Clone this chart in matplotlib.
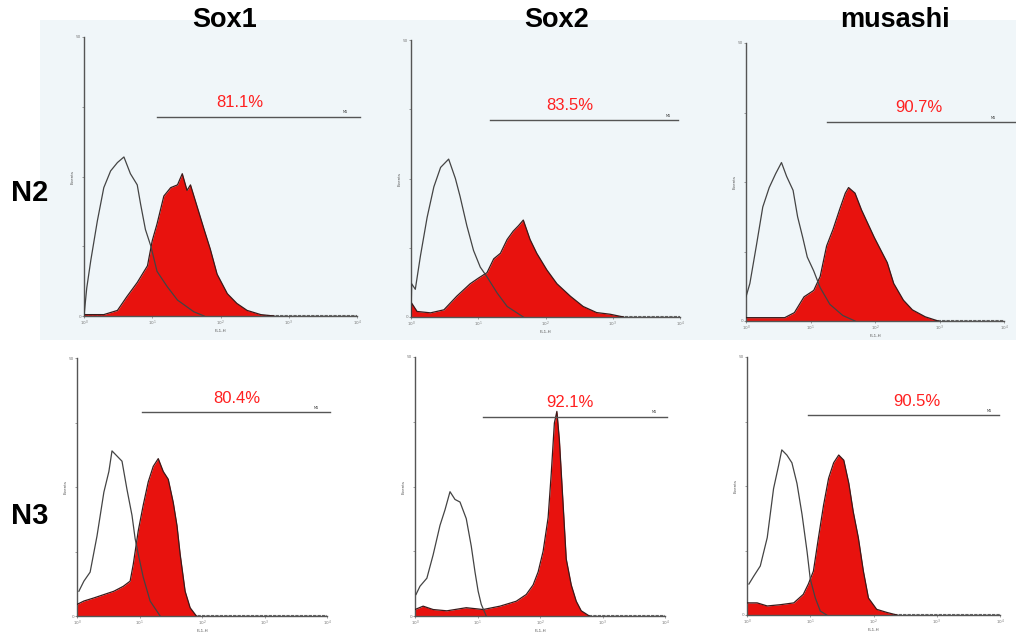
import matplotlib.pyplot as plt
from matplotlib.patches import Rectangle

# marker names and culture conditions
markers = ["Sox1", "Sox2", "musashi"]
conditions = ["N2", "N3"]
percent_labels = [["81.1%", "83.5%", "90.7%"], ["80.4%", "92.1%", "90.5%"]]

# histograms: x is log10(FL1-H), y is fraction of axis height
# --- N2 ---
n2_sox1_ctrl_x = [0.0, 0.04, 0.10, 0.195, 0.29, 0.39, 0.49, 0.585, 0.68, 0.78, 0.83, 0.90, 0.98, 1.07, 1.22, 1.37, 1.61, 1.76]
n2_sox1_ctrl_y = [0.0, 0.10, 0.20, 0.34, 0.46, 0.52, 0.55, 0.57, 0.51, 0.47, 0.40, 0.31, 0.25, 0.16, 0.105, 0.057, 0.015, 0.0]
n2_sox1_pos_x = [0.0, 0.29, 0.49, 0.63, 0.78, 0.93, 1.0, 1.07, 1.17, 1.27, 1.37, 1.44, 1.51, 1.56, 1.66, 1.76, 1.85, 1.95, 2.1, 2.24, 2.39, 2.59, 2.78]
n2_sox1_pos_y = [0.005, 0.005, 0.02, 0.07, 0.12, 0.18, 0.27, 0.33, 0.43, 0.46, 0.47, 0.51, 0.45, 0.47, 0.39, 0.31, 0.24, 0.15, 0.08, 0.045, 0.02, 0.005, 0.0]

n2_sox2_ctrl_x = [0.0, 0.01, 0.064, 0.14, 0.24, 0.34, 0.44, 0.56, 0.66, 0.73, 0.83, 0.93, 1.03, 1.13, 1.28, 1.43, 1.67]
n2_sox2_ctrl_y = [0.0, 0.12, 0.10, 0.22, 0.36, 0.47, 0.54, 0.57, 0.50, 0.435, 0.33, 0.24, 0.18, 0.145, 0.087, 0.038, 0.0]
n2_sox2_pos_x = [0.0, 0.01, 0.09, 0.29, 0.49, 0.68, 0.88, 1.0, 1.13, 1.23, 1.33, 1.43, 1.52, 1.6, 1.67, 1.77, 1.87, 2.02, 2.17, 2.37, 2.56, 2.76, 2.96, 3.16]
n2_sox2_pos_y = [0.0, 0.05, 0.02, 0.015, 0.026, 0.075, 0.12, 0.14, 0.16, 0.21, 0.23, 0.28, 0.31, 0.33, 0.35, 0.28, 0.23, 0.17, 0.12, 0.075, 0.038, 0.016, 0.01, 0.0]

n2_musashi_ctrl_x = [0.0, 0.06, 0.16, 0.26, 0.36, 0.46, 0.55, 0.63, 0.73, 0.80, 0.88, 0.95, 1.05, 1.15, 1.30, 1.50, 1.69]
n2_musashi_ctrl_y = [0.087, 0.135, 0.27, 0.41, 0.48, 0.53, 0.57, 0.52, 0.47, 0.375, 0.30, 0.23, 0.18, 0.12, 0.06, 0.02, 0.0]
n2_musashi_pos_x = [0.0, 0.60, 0.75, 0.90, 1.05, 1.15, 1.25, 1.35, 1.45, 1.54, 1.59, 1.69, 1.79, 1.89, 1.99, 2.09, 2.19, 2.29, 2.44, 2.58, 2.78, 2.98]
n2_musashi_pos_y = [0.012, 0.012, 0.03, 0.087, 0.11, 0.16, 0.27, 0.33, 0.40, 0.46, 0.48, 0.46, 0.40, 0.35, 0.30, 0.255, 0.21, 0.135, 0.075, 0.04, 0.015, 0.0]

# --- N3 ---
n3_sox1_ctrl_x = [0.03, 0.11, 0.21, 0.32, 0.43, 0.51, 0.56, 0.64, 0.72, 0.80, 0.88, 0.93, 0.98, 1.06, 1.17, 1.33]
n3_sox1_ctrl_y = [0.096, 0.135, 0.17, 0.31, 0.48, 0.56, 0.64, 0.62, 0.60, 0.49, 0.39, 0.30, 0.24, 0.15, 0.058, 0.0]
n3_sox1_pos_x = [0.0, 0.11, 0.27, 0.43, 0.59, 0.74, 0.85, 0.90, 0.98, 1.06, 1.14, 1.22, 1.30, 1.38, 1.46, 1.54, 1.60, 1.65, 1.73, 1.81, 1.91]
n3_sox1_pos_y = [0.045, 0.058, 0.07, 0.083, 0.096, 0.115, 0.135, 0.20, 0.33, 0.43, 0.52, 0.58, 0.61, 0.56, 0.53, 0.44, 0.35, 0.24, 0.096, 0.032, 0.0]

n3_sox2_ctrl_x = [0.016, 0.08, 0.19, 0.29, 0.40, 0.48, 0.56, 0.64, 0.72, 0.82, 0.90, 0.96, 1.01, 1.06, 1.14]
n3_sox2_ctrl_y = [0.083, 0.115, 0.146, 0.236, 0.35, 0.41, 0.48, 0.45, 0.44, 0.376, 0.27, 0.17, 0.096, 0.045, 0.0]
n3_sox2_pos_x = [0.0, 0.13, 0.29, 0.51, 0.82, 1.09, 1.36, 1.62, 1.78, 1.89, 1.97, 2.05, 2.13, 2.18, 2.23, 2.27, 2.31, 2.37, 2.42, 2.50, 2.58, 2.66, 2.79]
n3_sox2_pos_y = [0.025, 0.038, 0.025, 0.02, 0.032, 0.025, 0.038, 0.057, 0.083, 0.12, 0.17, 0.25, 0.38, 0.55, 0.745, 0.79, 0.68, 0.43, 0.22, 0.12, 0.057, 0.02, 0.0]

n3_musashi_ctrl_x = [0.03, 0.105, 0.21, 0.32, 0.42, 0.50, 0.55, 0.63, 0.71, 0.79, 0.87, 0.95, 1.0, 1.08, 1.16, 1.26]
n3_musashi_ctrl_y = [0.12, 0.15, 0.19, 0.30, 0.49, 0.58, 0.64, 0.62, 0.59, 0.51, 0.39, 0.245, 0.14, 0.066, 0.015, 0.0]
n3_musashi_pos_x = [0.0, 0.16, 0.32, 0.53, 0.74, 0.89, 0.97, 1.05, 1.13, 1.21, 1.29, 1.37, 1.45, 1.53, 1.61, 1.68, 1.76, 1.84, 1.92, 2.05, 2.21, 2.37]
n3_musashi_pos_y = [0.047, 0.047, 0.035, 0.04, 0.047, 0.08, 0.12, 0.17, 0.30, 0.425, 0.53, 0.59, 0.62, 0.60, 0.51, 0.40, 0.30, 0.17, 0.066, 0.022, 0.01, 0.0]

# marker gates (log10 start, log10 end)
gates = [[(1.07, 4.05), (1.17, 3.97), (1.26, 4.3)],
         [(1.04, 4.05), (1.09, 4.03), (0.96, 3.98)]]

ctrl_curves = [[(n2_sox1_ctrl_x, n2_sox1_ctrl_y), (n2_sox2_ctrl_x, n2_sox2_ctrl_y), (n2_musashi_ctrl_x, n2_musashi_ctrl_y)],
               [(n3_sox1_ctrl_x, n3_sox1_ctrl_y), (n3_sox2_ctrl_x, n3_sox2_ctrl_y), (n3_musashi_ctrl_x, n3_musashi_ctrl_y)]]
pos_curves = [[(n2_sox1_pos_x, n2_sox1_pos_y), (n2_sox2_pos_x, n2_sox2_pos_y), (n2_musashi_pos_x, n2_musashi_pos_y)],
              [(n3_sox1_pos_x, n3_sox1_pos_y), (n3_sox2_pos_x, n3_sox2_pos_y), (n3_musashi_pos_x, n3_musashi_pos_y)]]

# layout: axes boxes in pixels (left, right, top, bottom), gate heights, percent label x
W, H = 1016, 632
boxes = [[(84, 357, 37, 316), (411, 680, 40, 317), (746, 1004, 43, 321)],
         [(77, 327, 358, 616), (415, 665, 357, 616), (747, 1000, 357, 615)]]
gate_y = [[0.715, 0.71, 0.715], [0.79, 0.77, 0.775]]
label_x = [[2.29, 2.36, 2.68], [2.56, 2.48, 2.69]]

fig = plt.figure(figsize=(W / 100, H / 100), dpi=100)
fig.patch.set_facecolor("white")
# faint bluish scan tint behind the N2 row
fig.add_artist(Rectangle((40 / W, 1 - 340 / H), 976 / W, 320 / H, transform=fig.transFigure,
                         facecolor="#f0f6f9", edgecolor="none", zorder=0))

red = "#e8120e"
for r in range(2):
    for c in range(3):
        left, right, top, bottom = boxes[r][c]
        ax = fig.add_axes([left / W, 1 - bottom / H, (right - left) / W, (bottom - top) / H])
        ax.patch.set_alpha(0)
        px, py = pos_curves[r][c]
        cx, cy = ctrl_curves[r][c]
        ax.fill_between(px, py, 0, color=red, lw=0, zorder=2)
        ax.plot(px, py, color="#3a1a1a", lw=0.9, zorder=3)
        ax.plot(cx, cy, color="#444444", lw=0.9, zorder=4)
        # baseline beyond the histograms
        ax.plot([0, 4], [0.004, 0.004], color="#666666", lw=0.8, ls=(0, (3, 1)), zorder=1)

        g0, g1 = gates[r][c]
        gy = gate_y[r][c]
        ax.plot([g0, g1], [gy, gy], color="#555555", lw=1.0, clip_on=False, zorder=5)
        ax.text(min(g1, 3.95) - 0.12, gy + 0.012, "M1", fontsize=2.5, color="#333333", ha="center")
        ax.text(label_x[r][c], gy + 0.025, percent_labels[r][c], color="#ff2020",
                fontsize=12, ha="center", va="bottom", zorder=6, family="Liberation Sans")

        ax.set_xlim(0, 4)
        ax.set_ylim(0, 1)
        for s in ["top", "right"]:
            ax.spines[s].set_visible(False)
        for s in ["left", "bottom"]:
            ax.spines[s].set_color("#555555")
            ax.spines[s].set_linewidth(1.0)
        ax.set_xticks([0, 1, 2, 3, 4])
        ax.set_xticklabels(["10$^0$", "10$^1$", "10$^2$", "10$^3$", "10$^4$"], fontsize=3, color="#555555")
        ax.set_yticks([0, 0.25, 0.5, 0.75, 1.0])
        ax.set_yticklabels(["0", "", "", "", "50"], fontsize=3, color="#555555")
        ax.tick_params(length=1.5, width=0.5, pad=0.5, colors="#777777")
        ax.set_xlabel("FL1-H", fontsize=3, labelpad=0.5, color="#555555")
        ax.set_ylabel("Events", fontsize=3, labelpad=1, color="#555555")

# column titles and row labels
title_x = [225, 557, 895]
for c in range(3):
    fig.text(title_x[c] / W, 1 - 20 / H, markers[c], fontsize=19.5, fontweight="bold",
             ha="center", va="center", family="Liberation Sans")
row_y = [193, 516]
for r in range(2):
    fig.text(30 / W, 1 - row_y[r] / H, conditions[r], fontsize=21, fontweight="bold",
             ha="center", va="center", family="Liberation Sans")

plt.savefig("out.png", dpi=100)
